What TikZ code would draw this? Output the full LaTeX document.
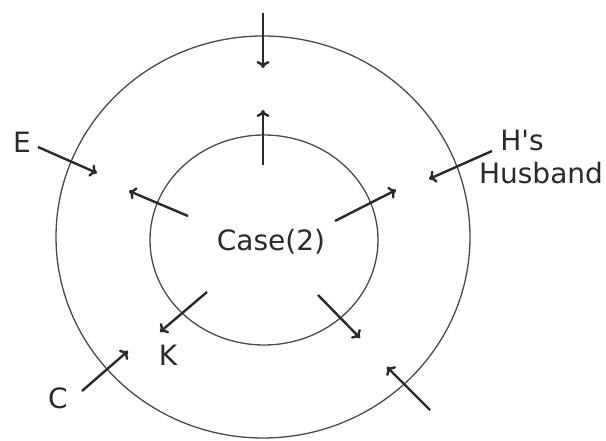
\documentclass[tikz,border=0pt]{standalone}
\usepackage{fontspec}
\setmainfont{DejaVu Sans}[Ligatures=TeXOff]
\usetikzlibrary{arrows.meta,shapes.geometric}
\definecolor{ink}{HTML}{2A2A2A}
\begin{document}
\begin{tikzpicture}[x=1pt,y=-1pt,
  ring/.style={draw=ink!85,line width=1.3pt},
  arr/.style={draw=ink,line width=2.4pt,-{To[length=7pt,width=13pt,line width=2.4pt]}},
  lbl/.style={text=ink,font=\fontsize{28}{33}\selectfont,inner sep=0pt}]
\useasboundingbox (0,0) rectangle (606,441);
\fill[white] (0,0) rectangle (606,441);
% circles
\node[ring,ellipse,minimum width=414pt,minimum height=402pt,inner sep=0pt] (outer) at (263,237) {};
\node[ring,ellipse,minimum width=228pt,minimum height=210pt,inner sep=0pt] (inner) at (264,240) {};
% labels
\node[lbl] (case) at (271,242) {Case(2)};
\node[lbl] (E) at (22,142) {E};
\node[lbl] (K) at (168,355) {K};
\node[lbl] (C) at (58,398) {C};
\node[lbl] (Hs) at (522,140) {H's};
\node[lbl] (Hus) at (541,173) {Husband};
% arrow ends
\coordinate (t1) at (263,13);   \coordinate (h1) at (263,68);
\coordinate (t2) at (263,165);  \coordinate (h2) at (263,110);
\coordinate (t3) at (38,147);   \coordinate (h3) at (97,173);
\coordinate (t4) at (188,216);  \coordinate (h4) at (129,191);
\coordinate (t5) at (492,151);  \coordinate (h5) at (429,179);
\coordinate (t6) at (335,221);  \coordinate (h6) at (396,190);
\coordinate (t7) at (207,292);  \coordinate (h7) at (160,332);
\coordinate (t8) at (318,295);  \coordinate (h8) at (360,338);
\coordinate (t9) at (82,391);   \coordinate (h9) at (128,351);
\coordinate (t10) at (430,410); \coordinate (h10) at (387,367);
\foreach \i in {1,...,10} \draw[arr] (t\i) -- (h\i);
\end{tikzpicture}
\end{document}
